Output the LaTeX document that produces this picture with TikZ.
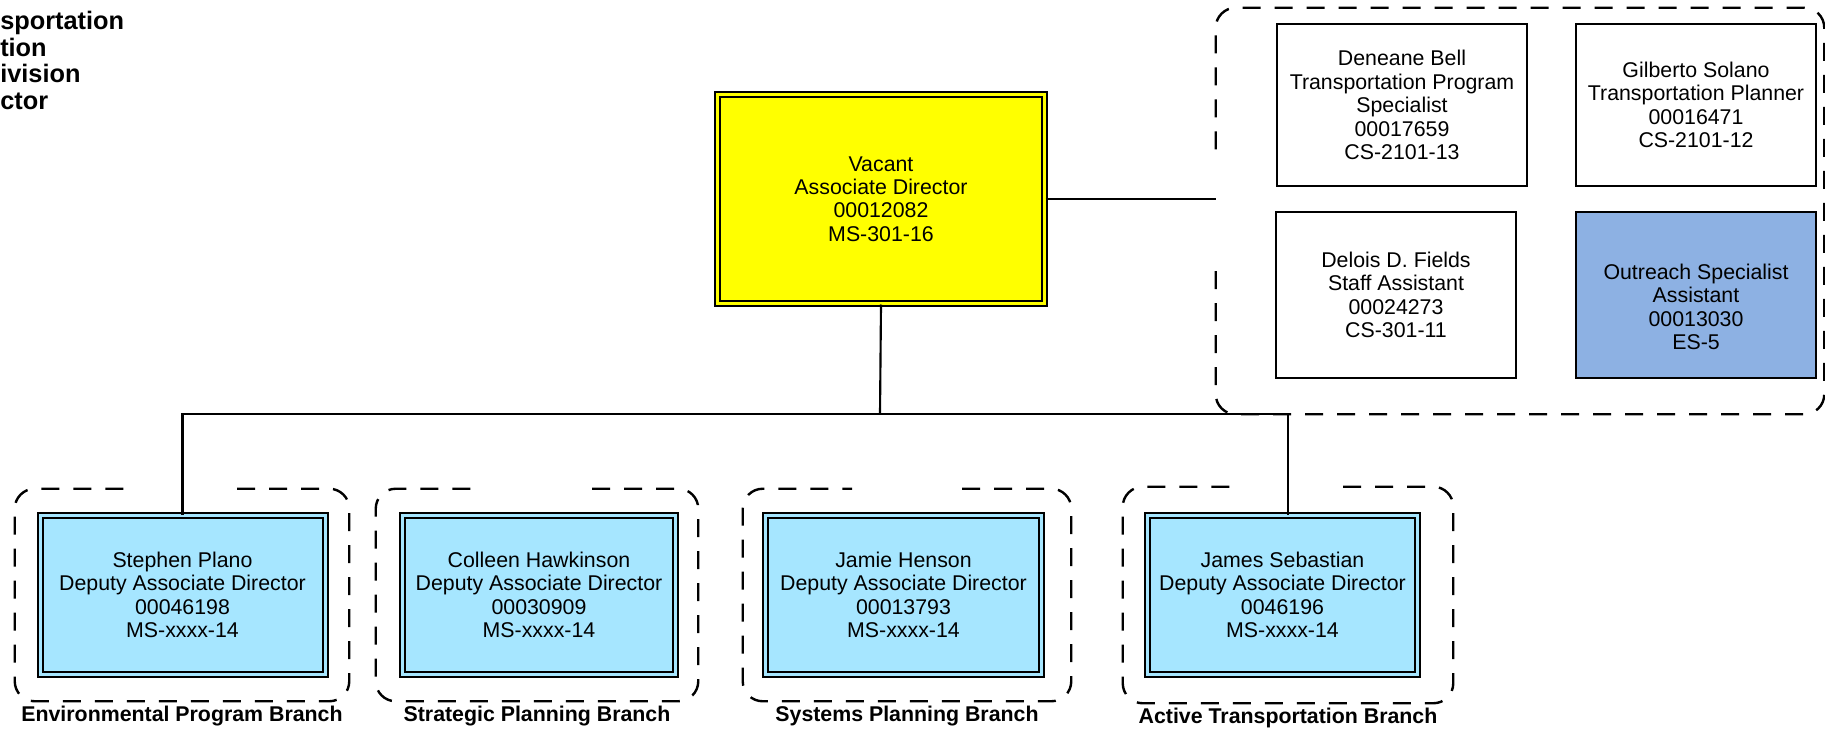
\documentclass[tikz,border=0pt]{standalone}
\usepackage{fontspec}
\setmainfont{Liberation Sans}
\usetikzlibrary{positioning}
\definecolor{vacyellow}{HTML}{FFFF00}
\definecolor{depblue}{HTML}{A6E6FF}
\definecolor{outblue}{HTML}{8DB1E3}
\newcommand{\pxl}{0.75pt}

\begin{document}
\begin{tikzpicture}[x=0.75pt,y=-0.75pt,
		every node/.style={font=\fontsize{16}{17.6}\selectfont,align=center},
		chief/.style={draw=black,line width=1.5pt,double=vacyellow,double distance=2.25pt,fill=vacyellow},
		deputy/.style={draw=black,line width=1.5pt,double=depblue,double distance=2.25pt,fill=depblue,minimum height=159*\pxl},
		staffbox/.style={draw=black,line width=1.5pt,fill=white},
		branch/.style={minimum height=212*\pxl,inner sep=0pt},
		brname/.style={font=\bfseries\fontsize{16}{17.6}\selectfont,inner sep=0pt},
		dashframe/.style={draw=black,line width=1.8pt,dash pattern=on 13.5pt off 10.5pt,rounded corners=15pt},
		link/.style={draw=black,line width=1.6pt}]
		\useasboundingbox (0,0) rectangle (1825,732);
		\node[anchor=north west,inner sep=0pt,align=left,font=\bfseries\fontsize{19}{20}\selectfont] (divtitle) at (0,11) {sportation\\tion\\ivision\\ctor};
		% dashed group frames
		\node[branch,minimum width=334*\pxl] (envbr) at (182,595) {};
		\node[branch,minimum width=322*\pxl] (strbr) at (537,595) {};
		\node[branch,minimum width=328*\pxl] (sysbr) at (907,595) {};
		\node[branch,minimum width=330*\pxl,minimum height=216*\pxl] (actbr) at (1288,595) {};
		\node[inner sep=0pt,minimum width=608*\pxl,minimum height=406*\pxl] (staff) at (1520,211) {};
		\foreach \f in {envbr,strbr,sysbr,actbr}
			\draw[dashframe] ([xshift=41.25pt]\f.north) -- (\f.north east) -- (\f.south east) -- (\f.south west) -- (\f.north west) -- ([xshift=-41.25pt]\f.north);
		\draw[dashframe] ([yshift=-45pt]staff.west) -- (staff.south west) -- (staff.south east) -- (staff.north east) -- (staff.north west) -- ([yshift=45pt]staff.west);
		\node[brname,below=3.4pt of envbr] (envname) {Environmental Program Branch};
		\node[brname,below=3.4pt of strbr] (strname) {Strategic Planning Branch};
		\node[brname,below=3.4pt of sysbr] (sysname) {Systems Planning Branch};
		\node[brname,below=3.4pt of actbr] (actname) {Active Transportation Branch};
		% boxes
		\node[chief,minimum width=327*\pxl,minimum height=209*\pxl] (vacant) at (881,199) {Vacant\\Associate Director\\00012082\\MS-301-16};
		\node[deputy,minimum width=285*\pxl] (plano) at (182.5,595) {Stephen Plano\\Deputy Associate Director\\00046198\\MS-xxxx-14};
		\node[deputy,minimum width=273*\pxl] (hawkinson) at (539,595) {Colleen Hawkinson\\Deputy Associate Director\\00030909\\MS-xxxx-14};
		\node[deputy,minimum width=276*\pxl] (henson) at (903.5,595) {Jamie Henson\\Deputy Associate Director\\00013793\\MS-xxxx-14};
		\node[deputy,minimum width=270*\pxl] (sebastian) at (1282.5,595) {James Sebastian\\Deputy Associate Director\\0046196\\MS-xxxx-14};
		\node[staffbox,minimum width=250*\pxl,minimum height=162*\pxl] (bell) at (1402,105) {Deneane Bell\\Transportation Program\\Specialist\\00017659\\CS-2101-13};
		\node[staffbox,minimum width=240*\pxl,minimum height=162*\pxl] (solano) at (1696,105) {Gilberto Solano\\Transportation Planner\\00016471\\CS-2101-12};
		\node[staffbox,minimum width=240*\pxl,minimum height=166*\pxl] (fields) at (1396,295) {Delois D. Fields\\Staff Assistant\\00024273\\CS-301-11};
		\node[staffbox,fill=outblue,minimum width=240*\pxl,minimum height=166*\pxl] (outreach) at (1696,295) {};
		\node (outreachtxt) at ([yshift=-9pt]outreach.center) {Outreach Specialist\\Assistant\\00013030\\ES-5};
		% connectors
		\coordinate (bus) at (880,414);
		\draw[link] (vacant.south) -- (bus);
		\draw[link] (plano.north) |- (bus) -| (actbr.north |- sebastian.north);
		\draw[link] (vacant.east) -- (vacant.east -| staff.west);
	\end{tikzpicture}
\end{document}
